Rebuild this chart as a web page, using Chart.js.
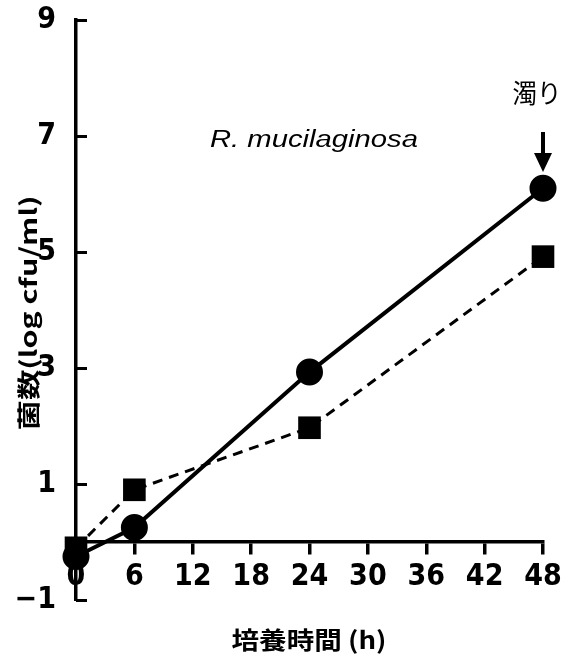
<!DOCTYPE html>
<html>
<head>
<meta charset="utf-8">
<script src="https://cdn.jsdelivr.net/npm/chart.js@4"></script>
<style>
  html, body { margin: 0; padding: 0; background: #fff; }
  #wrap { width: 573px; height: 667px; }
</style>
</head>
<body>
<div id="wrap"><canvas id="chartCanvas" width="573" height="667"></canvas></div>
<script>
// culture time (h) and counts (log cfu/ml)
const HOURS = [0, 6, 24, 48];
const CIRCLE = [-0.25, 0.25, 2.93, 6.1]; // solid line
const SQUARE = [-0.1, 0.9, 1.97, 4.92];  // dashed line
const Y_TICKS = [-1, 1, 3, 5, 7, 9];
const X_TICKS = [0, 6, 12, 18, 24, 30, 36, 42, 48];

const NUM_FONT = "'Liberation Sans Narrow', 'DejaVu Sans Condensed', 'Liberation Sans', sans-serif";
const JP_FONT = "'Noto Sans CJK JP', sans-serif";

function pts(ys) {
    return HOURS.map((h, i) => ({ x: h, y: ys[i] }));
}

// draw text squeezed/stretched to a width
function fitText(ctx, text, x, y, w) {
    const m = ctx.measureText(text).width;
    ctx.save();
    ctx.translate(x, y);
    ctx.scale(w / m, 1);
    ctx.fillText(text, 0, 0);
    ctx.restore();
}

// keep label overhang from pushing the plot area around
function noPad(s) {
    s.paddingTop = 0;
    s.paddingBottom = 0;
    s.paddingLeft = 0;
    s.paddingRight = 0;
}

const extras = {
    id: 'extras',
    afterDraw(chart) {
        const ctx = chart.ctx;
        const xs = chart.scales.x, ys = chart.scales.y;
        ctx.save();
        ctx.fillStyle = '#000';
        ctx.strokeStyle = '#000';

        // inward ticks on the y axis
        ctx.lineWidth = 3;
        Y_TICKS.forEach(v => {
            const py = Math.round(ys.getPixelForValue(v)) + 0.5;
            ctx.beginPath();
            ctx.moveTo(xs.left, py);
            ctx.lineTo(xs.left + 11, py);
            ctx.stroke();
        });

        ctx.textAlign = 'center';
        ctx.textBaseline = 'middle';

        // species name
        ctx.font = "italic 23px 'Liberation Sans', Arial, sans-serif";
        fitText(ctx, 'R. mucilaginosa', 314, 141, 208);

        // turbidity label + arrow
        const ax = xs.getPixelForValue(48);
        ctx.font = "26px " + JP_FONT;
        fitText(ctx, '濁り', 537, 93, 49);
        ctx.lineWidth = 4;
        ctx.beginPath();
        ctx.moveTo(ax, 132);
        ctx.lineTo(ax, 157);
        ctx.stroke();
        ctx.beginPath();
        ctx.moveTo(ax - 9, 153);
        ctx.lineTo(ax + 9, 153);
        ctx.lineTo(ax, 172);
        ctx.closePath();
        ctx.fill();

        // axis titles
        ctx.font = "bold 24px " + JP_FONT;
        fitText(ctx, '培養時間 (h)', 309, 640, 155);

        ctx.save();
        ctx.translate(28, 313);
        ctx.rotate(-Math.PI / 2);
        ctx.font = "bold 23px " + JP_FONT;
        fitText(ctx, '菌数(log cfu/ml)', 0, 0, 235);
        ctx.restore();

        ctx.restore();
    }
};

const ctx = document.getElementById('chartCanvas').getContext('2d');
const myChart = new Chart(ctx, {
    type: 'line',
    data: {
        datasets: [{
            label: 'circle',
            data: pts(CIRCLE),
            borderColor: '#000',
            backgroundColor: '#000',
            borderWidth: 4,
            pointStyle: 'circle',
            pointRadius: 11.5,
            pointHoverRadius: 11.5,
            clip: false,
            tension: 0
        }, {
            label: 'square',
            data: pts(SQUARE),
            borderColor: '#000',
            backgroundColor: '#000',
            borderWidth: 3,
            borderDash: [10, 7],
            pointStyle: 'rect',
            pointRadius: 16,
            pointHoverRadius: 16,
            pointBorderWidth: 0,
            clip: false,
            tension: 0
        }]
    },
    options: {
        responsive: false,
        animation: false,
        events: [],
        layout: { padding: { top: 20, right: 30, bottom: 67, left: 0 } },
        plugins: { legend: { display: false }, tooltip: { enabled: false } },
        scales: {
            x: {
                type: 'linear',
                position: { y: 0 },
                min: 0,
                max: 48,
                afterBuildTicks: (s) => { s.ticks = X_TICKS.map(v => ({ value: v })); },
                afterFit: noPad,
                grid: { drawOnChartArea: false, tickLength: 11, lineWidth: 3.5, color: '#000' },
                border: { display: true, width: 3.5, color: '#000' },
                ticks: {
                    color: '#000',
                    padding: 6,
                    maxRotation: 0,
                    autoSkip: false,
                    font: { family: NUM_FONT, size: 30, weight: 'bold' }
                }
            },
            y: {
                type: 'linear',
                min: -1,
                max: 9,
                afterBuildTicks: (s) => { s.ticks = Y_TICKS.map(v => ({ value: v })); },
                afterFit: (s) => { noPad(s); s.width = 76; },
                grid: { drawOnChartArea: false, drawTicks: false },
                border: { display: true, width: 3.5, color: '#000' },
                ticks: {
                    color: '#000',
                    padding: 20,
                    font: { family: NUM_FONT, size: 30, weight: 'bold' },
                    callback: (v) => String(v).replace('-', '\u2212')
                }
            }
        }
    },
    plugins: [extras]
});
</script>
</body>
</html>
